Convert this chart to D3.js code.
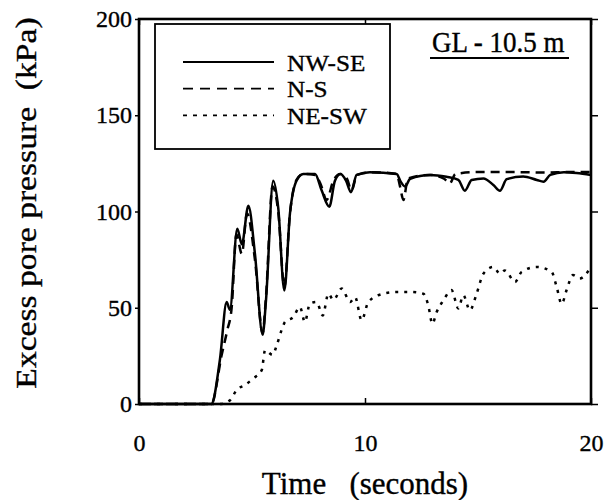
<!DOCTYPE html>
<html>
<head>
<meta charset="utf-8">
<script src="https://cdn.jsdelivr.net/npm/d3@7"></script>
<style>
  html, body { margin: 0; padding: 0; background: #fff; }
  svg { display: block; }
  text { font-family: "Liberation Serif", "Times New Roman", serif; fill: #000; stroke: #000; stroke-width: 0.35px; }
</style>
</head>
<body>
<svg id="chart" width="605" height="500" font-family="Liberation Serif, serif"></svg>
<script>
// ---- Data ----
const seriesNames = ["NW-SE", "N-S", "NE-SW"];
const xTicks = [0, 10, 20];
const yTicks = [0, 50, 100, 150, 200];
const annotation = "GL - 10.5 m";

const nwseTime = [0, 3.2, 3.58, 3.88, 4.02, 4.35, 4.55, 4.84, 5.13, 5.47, 5.62, 5.94, 6.16, 6.43, 6.68, 6.97, 7.27, 7.79, 8.08, 8.42, 8.67, 8.92, 9.16, 9.38, 9.63, 10.22, 11.4, 11.58, 11.77, 12.0, 12.88, 13.6, 14.13, 14.42, 14.72, 15.24, 15.68, 15.97, 16.27, 17.0, 17.6, 17.9, 18.2, 18.8, 19.36, 20];
const nwseValue = [0, 0, 23, 53, 49, 91, 83, 103, 78, 36, 54, 116, 102, 59, 99, 116, 119.5, 119.5, 111, 102.5, 116, 119.5, 116, 110, 119, 120.4, 119.5, 115.5, 113, 117, 119, 118, 116.4, 110.8, 116.4, 117.2, 113.8, 110.8, 116.8, 118.2, 116.4, 115.5, 119, 120.4, 120, 119];

const nsTime = [0, 3.2, 3.66, 3.9, 4.1, 4.31, 4.55, 4.78, 5.13, 5.47, 5.62, 5.91, 6.16, 6.43, 6.68, 6.97, 7.27, 7.8, 8.05, 8.3, 8.6, 8.9, 9.2, 9.4, 9.65, 10.3, 11.4, 11.55, 11.7, 11.9, 12.9, 13.5, 13.75, 14.0, 15.0, 16.5, 18.0, 19.0, 20];
const nsValue = [0, 0, 25.6, 38, 50, 88, 78, 99, 75, 37, 56, 113, 100, 61, 99, 116.4, 119.5, 119, 113.8, 106, 116, 119.5, 117, 111, 119, 120.4, 119.5, 113, 106, 117.2, 119, 117, 114.6, 119.5, 120.5, 120.5, 120.2, 120.5, 120.5];

const neswTime = [0, 3.58, 4.03, 4.32, 4.69, 5.06, 5.43, 5.58, 5.91, 6.08, 6.31, 6.46, 6.83, 7.12, 7.34, 7.56, 7.86, 8.13, 8.38, 8.6, 8.97, 9.34, 9.56, 9.85, 10.15, 10.81, 11.4, 12.0, 12.58, 12.8, 12.98, 13.17, 13.47, 13.83, 14.13, 14.35, 14.64, 14.94, 15.24, 15.68, 15.97, 16.19, 16.64, 16.93, 17.6, 18.26, 18.48, 18.7, 18.92, 19.2, 19.5, 20];
const neswValue = [0, 0, 2, 7.3, 9.9, 13.3, 17.6, 28, 25.5, 30, 38.4, 42.6, 45.2, 50.4, 42.6, 52.1, 53, 46, 57.3, 54, 60, 53, 55.6, 43.5, 53, 57.3, 58.2, 58.2, 57.3, 51.2, 41.7, 47.8, 53.8, 59.2, 49.6, 56.5, 48.7, 57.3, 67.7, 71.2, 67.7, 69.4, 63.4, 68.6, 71.2, 68.6, 60.8, 52, 59.2, 67, 65.2, 71.2];

// ---- Layout ----
const FONT = '"Liberation Serif", "Times New Roman", serif';
const svg = d3.select("#chart");
const margin = { left: 139, right: 14, top: 19, bottom: 96 };
const W = 605, H = 500;
const x = d3.scaleLinear().domain([0, 20]).range([margin.left, W - margin.right]);
const y = d3.scaleLinear().domain([0, 200]).range([H - margin.bottom, margin.top]);

const series = [
  { name: seriesNames[0], t: nwseTime, v: nwseValue, dash: null },
  { name: seriesNames[1], t: nsTime, v: nsValue, dash: "9,6" },
  { name: seriesNames[2], t: neswTime, v: neswValue, dash: "3,6" }
];

const line = d3.line().x(d => x(d[0])).y(d => y(d[1])).curve(d3.curveMonotoneX);

// curves
series.slice().reverse().forEach(s => {
  svg.append("path")
    .datum(s.t.map((t, i) => [t, s.v[i]]))
    .attr("d", line)
    .attr("fill", "none")
    .attr("stroke", "#000")
    .attr("stroke-width", 2.5)
    .attr("stroke-dasharray", s.dash)
    .attr("stroke-linejoin", "round");
});

// axes
const gLeft = svg.append("g").attr("transform", `translate(${margin.left},0)`)
  .call(d3.axisLeft(y).tickValues(yTicks).tickSize(4).tickPadding(3));
const gRight = svg.append("g").attr("transform", `translate(${W - margin.right},0)`)
  .call(d3.axisLeft(y).tickValues(yTicks).tickSize(-7).tickFormat(""));
const gBottom = svg.append("g").attr("transform", `translate(0,${H - margin.bottom})`)
  .call(d3.axisBottom(x).tickValues(xTicks).tickSize(-6).tickPadding(30));
const gTop = svg.append("g").attr("transform", `translate(0,${margin.top})`)
  .call(d3.axisTop(x).tickValues(xTicks).tickSize(-6).tickFormat(""));
[gLeft, gRight, gBottom, gTop].forEach(g => {
  g.attr("font-family", FONT).attr("font-size", 24);
  g.select(".domain").remove();
  g.selectAll(".tick line").attr("stroke", "#000").attr("stroke-width", 1.5);
  g.selectAll("text").attr("font-family", FONT).style("font-family", FONT)
    .style("font-size", "24px").attr("fill", "#000");
});

// frame
svg.append("rect")
  .attr("x", x(0)).attr("y", y(200))
  .attr("width", x(20) - x(0)).attr("height", y(0) - y(200))
  .attr("fill", "none").attr("stroke", "#000").attr("stroke-width", 2.6);

// legend
const lg = svg.append("g").attr("font-family", FONT);
lg.append("rect").attr("x", 155).attr("y", 24).attr("width", 235).attr("height", 125)
  .attr("fill", "#fff").attr("stroke", "#000").attr("stroke-width", 1.8);
const legendDash = [null, "10,7", "4,6"];
series.forEach((s, i) => {
  const yy = 62 + i * 26.7;
  lg.append("line").attr("x1", 183).attr("x2", 274).attr("y1", yy).attr("y2", yy)
    .attr("stroke", "#000").attr("stroke-width", 1.8).attr("stroke-dasharray", legendDash[i]);
  lg.append("text").attr("transform", `translate(287,${yy + 8.5}) scale(1.05,1)`)
    .attr("font-family", FONT).style("font-size", "24px").text(s.name);
});

// annotation
svg.append("text").attr("transform", "translate(432,52) scale(1,1.08)")
  .attr("font-family", FONT).style("font-size", "27px").text(annotation);
svg.append("line").attr("x1", 430).attr("x2", 569).attr("y1", 58).attr("y2", 58)
  .attr("stroke", "#000").attr("stroke-width", 1.8);

// axis titles
svg.append("text").attr("x", x(10)).attr("y", 494).attr("text-anchor", "middle")
  .attr("font-family", FONT).style("font-size", "31px").style("white-space", "pre").text("Time   (seconds)");
svg.append("text").attr("transform", `translate(36,203) rotate(-90) scale(1.12,1)`)
  .attr("text-anchor", "middle").attr("font-family", FONT).style("font-size", "30px").style("white-space", "pre")
  .text("Excess pore pressure  (kPa)");
</script>
</body>
</html>
